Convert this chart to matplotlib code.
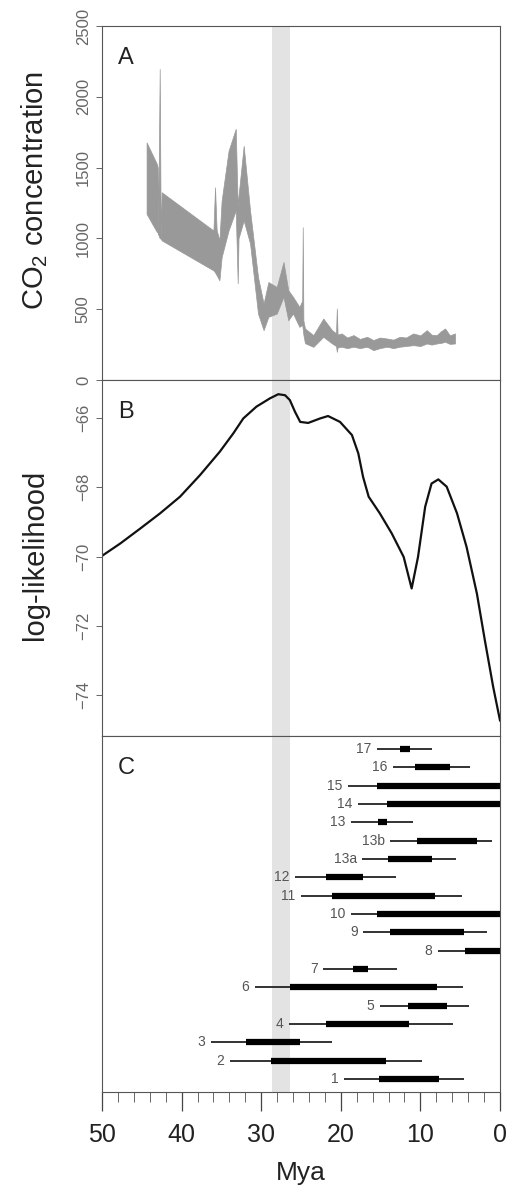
import matplotlib.pyplot as plt
from matplotlib.ticker import MultipleLocator

plt.rcParams['font.family'] = ['Liberation Sans', 'DejaVu Sans']

# A: CO2 band (Mya, upper, lower)
co2_mya = [44.4, 43.1, 43.0, 42.95, 42.75, 42.62, 42.5, 36.0, 35.8, 35.6, 35.25, 34.97,
           34.1, 33.2, 32.95, 32.85, 32.2, 31.4, 30.4, 29.7, 29.1, 28.05, 27.2, 26.6,
           26.0, 25.2, 24.85, 24.78, 24.7, 24.5, 23.45, 22.2, 21.1, 20.6, 20.5, 20.4,
           19.9, 19.2, 18.4, 17.6, 16.7, 15.9, 15.1, 14.2, 13.4, 12.6, 11.8, 10.9,
           10.0, 9.2, 8.6, 7.95, 7.4, 6.9, 6.3, 5.65]
co2_hi = [1678, 1525, 1500, 1030, 2197, 1000, 1326, 1056, 1361, 1060, 986, 1267,
          1619, 1774, 1220, 1300, 1654, 1197, 727, 540, 692, 657, 833, 634,
          587, 516, 560, 1079, 420, 364, 317, 434, 352, 330, 505, 320,
          329, 300, 317, 290, 305, 282, 300, 293, 285, 305, 300, 329,
          315, 352, 320, 317, 345, 364, 315, 329]
co2_lo = [1173, 1044, 1044, 1030, 1000, 1000, 986, 774, 760, 740, 704, 868,
          1056, 1197, 683, 1000, 1126, 964, 469, 352, 446, 469, 587, 422,
          469, 375, 390, 360, 320, 260, 234, 305, 258, 240, 199, 230,
          235, 225, 235, 225, 235, 211, 225, 235, 225, 235, 240, 246,
          240, 258, 250, 258, 262, 270, 255, 258]

# B: log-likelihood profile
ll_mya = [50.2, 47.7, 45.2, 42.7, 40.2, 37.7, 35.2, 33.5, 32.25, 30.6, 28.9, 27.85,
          27.0, 26.4, 25.75, 25.1, 24.1, 22.6, 21.6, 20.1, 18.6, 17.8, 17.2, 16.5,
          15.1, 13.6, 12.1, 11.1, 10.3, 9.4, 8.6, 7.75, 6.7, 5.4, 4.2, 2.9,
          1.9, 0.85, 0.0]
ll_val = [-70.01, -69.62, -69.19, -68.75, -68.27, -67.65, -66.97, -66.44, -66.01, -65.67, -65.43, -65.31,
          -65.34, -65.48, -65.82, -66.11, -66.14, -66.01, -65.94, -66.11, -66.49, -67.02, -67.70, -68.27,
          -68.75, -69.33, -70.01, -70.92, -70.01, -68.56, -67.89, -67.77, -67.98, -68.75, -69.72, -71.07,
          -72.42, -73.77, -74.73]

# C: age intervals (label, outer range, inner range), top to bottom
c_labels = ['17', '16', '15', '14', '13', '13b', '13a', '12', '11', '10',
            '9', '8', '7', '6', '5', '4', '3', '2', '1']
thin_old = [15.5, 13.4, 19.1, 17.8, 18.7, 13.8, 17.3, 25.8, 25.0, 18.7,
            17.2, 7.8, 22.2, 30.8, 15.1, 26.5, 36.3, 33.9, 19.6]
thin_young = [8.5, 3.8, 0.0, 0.0, 10.9, 1.0, 5.5, 13.1, 4.8, 0.0,
              1.6, 0.0, 12.9, 4.6, 3.9, 5.9, 21.1, 9.8, 4.5]
thick_old = [12.6, 10.7, 15.5, 14.2, 15.3, 10.4, 14.1, 21.9, 21.1, 15.4,
             13.8, 4.4, 18.5, 26.4, 11.6, 21.9, 31.9, 28.8, 15.2]
thick_young = [11.3, 6.3, 0.0, 0.0, 14.2, 2.9, 8.5, 17.2, 8.2, 0.0,
               4.5, 0.0, 16.6, 7.9, 6.7, 11.4, 25.1, 14.3, 7.7]

band = (26.4, 28.6)

fig = plt.figure(figsize=(5.13, 11.88), dpi=100)
W, H = 513, 1188
left, right = 102 / W, 500 / W
axA = fig.add_axes([left, 1 - 380 / H, right - left, 354 / H])
axB = fig.add_axes([left, 1 - 736 / H, right - left, 356 / H])
axC = fig.add_axes([left, 1 - 1092 / H, right - left, 356 / H])

for ax in (axA, axB, axC):
    ax.set_xlim(50, 0)
    ax.axvspan(band[0], band[1], color='#e3e3e3', lw=0, zorder=0)
    for s in ax.spines.values():
        s.set_color('#555555')
        s.set_linewidth(0.8)
    ax.tick_params(axis='y', direction='out', length=4, width=0.7, color='#666666',
                   labelsize=12, labelcolor='#666666', pad=4)

# Panel A
axA.fill_between(co2_mya, co2_lo, co2_hi, color='#999999', lw=0.5, edgecolor='#999999')
axA.set_ylim(0, 2500)
axA.set_yticks([0, 500, 1000, 1500, 2000, 2500])
axA.set_xticks([])
for t in axA.get_yticklabels():
    t.set_rotation(90)
    t.set_va('center')
axA.text(0.04, 0.94, 'A', transform=axA.transAxes, fontsize=17, va='top', ha='left', color='#222222')
fig.text(35 / W, 1 - 190 / H, r'$\mathregular{CO_2}$ concentration', rotation=90,
         ha='center', va='center', fontsize=21, color='#222222')

# Panel B
axB.plot(ll_mya, ll_val, color='#111111', lw=1.6)
axB.set_ylim(-75.18, -64.9)
axB.set_yticks([-74, -72, -70, -68, -66])
axB.set_xticks([])
for t in axB.get_yticklabels():
    t.set_rotation(90)
    t.set_va('center')
axB.text(0.04, 0.94, 'B', transform=axB.transAxes, fontsize=17, va='top', ha='left', color='#222222')
fig.text(35 / W, 1 - 555 / H, 'log-likelihood', rotation=90,
         ha='center', va='center', fontsize=21, color='#222222')

# Panel C
n = len(c_labels)
ypos = [n - 1 - i for i in range(n)]
axC.hlines(ypos, thin_old, thin_young, color='#111111', lw=1.2)
axC.hlines(ypos, thick_old, thick_young, color='#000000', lw=4.5)
for lab, y, x0 in zip(c_labels, ypos, thin_old):
    axC.annotate(lab, (x0, y), xytext=(-4, 0), textcoords='offset points',
                 ha='right', va='center', fontsize=10, color='#555555')
axC.set_ylim(-0.71, n - 1 + 0.71)
axC.set_yticks([])
axC.set_xticks([50, 40, 30, 20, 10, 0])
axC.xaxis.set_minor_locator(MultipleLocator(2))
axC.tick_params(axis='x', which='major', direction='out', length=14, width=0.9,
                color='#444444', labelsize=18, labelcolor='#222222', pad=8)
axC.tick_params(axis='x', which='minor', direction='out', length=7, width=0.7, color='#666666')
axC.text(0.04, 0.94, 'C', transform=axC.transAxes, fontsize=17, va='top', ha='left', color='#222222')
fig.text((left + right) / 2, 1 - 1173 / H, 'Mya', ha='center', va='center',
         fontsize=19, color='#222222')

fig.savefig('out.png', dpi=100)
